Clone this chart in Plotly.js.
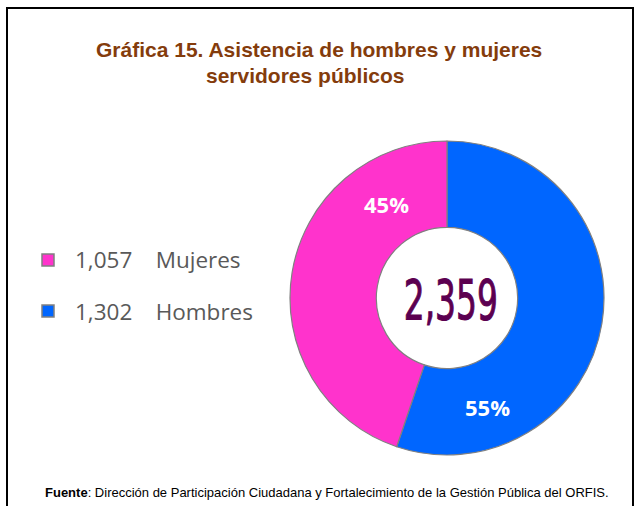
<!DOCTYPE html>
<html>
<head>
<meta charset="utf-8">
<script src="https://cdn.plot.ly/plotly-3.0.1.min.js"></script>
<style>
html,body{margin:0;padding:0;background:#fff;}
#chart{width:640px;height:506px;}
</style>
</head>
<body>
<div id="chart"></div>
<script>
// ---- data ----
const categories = ['Mujeres', 'Hombres'];
const values = [1057, 1302];
const sliceColors = ['#FF33CC', '#0066FF'];
const titleLines = ['Gráfica 15. Asistencia de hombres y mujeres', 'servidores públicos'];
const sourceText = '<b>Fuente</b>: Dirección de Participación Ciudadana y Fortalecimiento de la Gestión Pública del ORFIS.';

// ---- derived ----
const total = values.reduce((a, b) => a + b, 0);
const fmt = v => v.toLocaleString('en-US');
const pct = values.map(v => Math.round(v / total * 100) + '%');

const W = 640, H = 506;
const px = x => x / W;
const py = y => (H - y) / H;

const cx = 447, cy = 298, R = 157;

// slices drawn Hombres first, clockwise from 12 o'clock (as in the original)
const order = [1, 0];
const trace = {
  type: 'pie',
  labels: order.map(i => categories[i]),
  values: order.map(i => values[i]),
  sort: false,
  direction: 'clockwise',
  rotation: 0,
  hole: 0.45,
  textinfo: 'none',
  hoverinfo: 'label+value+percent',
  marker: { colors: order.map(i => sliceColors[i]), line: { color: '#808080', width: 1.2 } },
  domain: { x: [px(cx - R), px(cx + R)], y: [py(cy + R), py(cy - R)] },
  showlegend: false
};

const pctPos = [[386, 204], [487, 407]];
const legendRows = [260, 311];
const titlePos = [[319, 49], [305, 75]];

const annotations = [];
titleLines.forEach((t, i) => {
  annotations.push({
    text: '<b>' + t + '</b>', x: px(titlePos[i][0]), y: py(titlePos[i][1]), xref: 'paper', yref: 'paper',
    xanchor: 'center', yanchor: 'middle', showarrow: false,
    font: { family: 'Liberation Sans, Arial, sans-serif', size: 21, color: '#843C0C' }
  });
});
annotations.push({
  text: fmt(total), x: px(cx + 4), y: py(cy + 2), xref: 'paper', yref: 'paper',
  xanchor: 'center', yanchor: 'middle', showarrow: false,
  font: { family: 'DejaVu Sans Condensed, DejaVu Sans, sans-serif', size: 55, color: '#5C0050' }
});
annotations.push({
  text: sourceText, x: px(327), y: py(492), xref: 'paper', yref: 'paper',
  xanchor: 'center', yanchor: 'middle', showarrow: false,
  font: { family: 'Liberation Sans, Arial, sans-serif', size: 13, color: '#000000' }
});
values.forEach((v, i) => {
  annotations.push({
    text: '<b>' + pct[i] + '</b>', x: px(pctPos[i][0]), y: py(pctPos[i][1]), xref: 'paper', yref: 'paper',
    xanchor: 'center', yanchor: 'middle', showarrow: false,
    font: { family: 'Open Sans, sans-serif', size: 22, color: '#FFFFFF' }
  });
  annotations.push({
    text: fmt(v) + '&nbsp;&nbsp;&nbsp;&nbsp;' + categories[i], x: px(73), y: py(legendRows[i]), xref: 'paper', yref: 'paper',
    xanchor: 'left', yanchor: 'middle', showarrow: false,
    font: { family: 'Open Sans, sans-serif', size: 22.5, color: '#595959' }
  });
});

const shapes = [
  { type: 'path', xref: 'paper', yref: 'paper',
    path: `M ${px(7)} ${py(520)} L ${px(7)} ${py(8)} L ${px(633)} ${py(8)} L ${px(633)} ${py(520)}`,
    line: { color: '#000000', width: 2 } }
];
legendRows.forEach((y, i) => {
  shapes.push({ type: 'rect', xref: 'paper', yref: 'paper',
    x0: px(42), x1: px(54), y0: py(y + 6), y1: py(y - 6),
    fillcolor: sliceColors[i], line: { color: '#808080', width: 1.5 } });
});

const layout = {
  width: W, height: H,
  margin: { l: 0, r: 0, t: 0, b: 0 },
  paper_bgcolor: '#ffffff',
  plot_bgcolor: '#ffffff',
  showlegend: false,
  annotations: annotations,
  shapes: shapes
};

Plotly.newPlot('chart', [trace], layout, { displayModeBar: false, staticPlot: true }).then(gd => {
  // condense the central total to match the narrow face of the original
  gd.querySelectorAll('.annotation-text').forEach(el => {
    if (el.textContent === fmt(total)) {
      el.setAttribute('textLength', '94');
      el.setAttribute('lengthAdjust', 'spacingAndGlyphs');
      el.style.stroke = '#5C0050';
      el.style.strokeWidth = '1px';
    }
  });
});
</script>
</body>
</html>
